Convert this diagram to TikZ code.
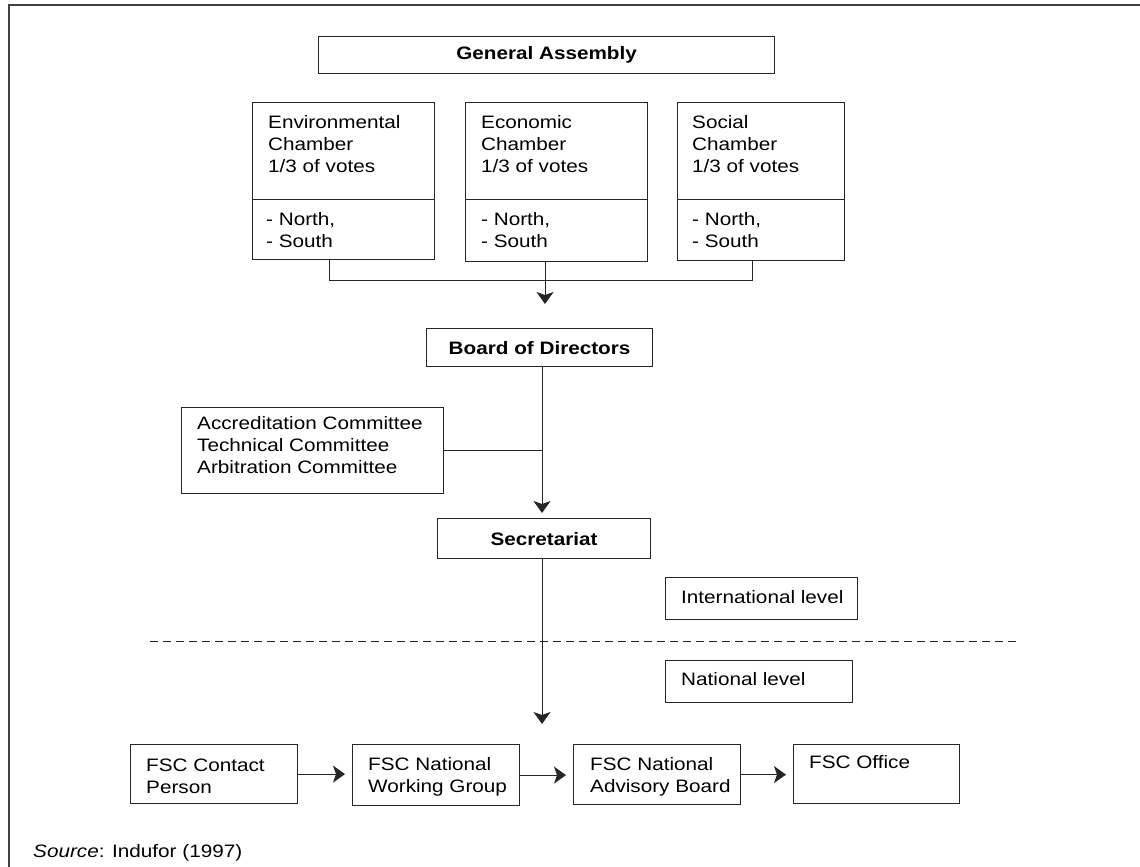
\documentclass[tikz,border=0pt]{standalone}
\usepackage{fontspec}
\setmainfont{Liberation Sans}[FakeStretch=1.15]
\usetikzlibrary{arrows.meta,calc}
\begin{document}
\begin{tikzpicture}[x=1pt,y=-1pt,
  box/.style={draw=black!85, line width=1.2pt, anchor=north west, inner sep=0pt},
  txt/.style={anchor=base west, align=left, inner sep=0pt, font=\fontsize{18}{22}\selectfont},
  btxt/.style={font=\fontsize{18}{22}\selectfont\bfseries},
  conn/.style={draw=black!85, line width=1pt},
  arr/.style={conn, -{Stealth[length=12pt,width=17pt,inset=3pt]}},
  frame/.style={draw=black!75, line width=2pt},
  sep/.style={draw=black!85, line width=1pt, dash pattern=on 8pt off 5pt}]
\useasboundingbox (0,0) rectangle (1140,867);
\draw[frame] (9,867) -- (9,5) -- (1140,5);

% General Assembly
\node[box, btxt, minimum width=456pt, minimum height=37pt] (ga) at (318,36) {General Assembly};

% Chambers
\node[box, minimum width=182pt, minimum height=97pt] (envt) at (252,102) {};
\node[box, minimum width=182pt, minimum height=60pt] (envb) at (252,199) {};
\node[box, minimum width=182pt, minimum height=97pt] (econt) at (465,102) {};
\node[box, minimum width=182pt, minimum height=62pt] (econb) at (465,199) {};
\node[box, minimum width=167pt, minimum height=97pt] (soct) at (677,102) {};
\node[box, minimum width=167pt, minimum height=61pt] (socb) at (677,199) {};
% (multi-line text nodes: base anchor = baseline of last line)
\node[txt] (envtx) at (268,172.5) {Environmental\\Chamber\\1/3 of votes};
\node[txt] (econtx) at (481,172.5) {Economic\\Chamber\\1/3 of votes};
\node[txt] (soctx) at (692,172.5) {Social\\Chamber\\1/3 of votes};
\node[txt] (envbx) at (266,247) {- North,\\- South};
\node[txt] (econbx) at (481,247) {- North,\\- South};
\node[txt] (socbx) at (692,247) {- North,\\- South};

% Board, committees, secretariat
\node[box, btxt, minimum width=226pt, minimum height=38pt] (board) at (426,328) {Board of Directors};
\node[box, minimum width=262pt, minimum height=86pt] (comm) at (181,407) {};
\node[txt] (commtx) at (197,473.5) {Accreditation Committee\\Technical Committee\\Arbitration Committee};
\node[box, btxt, minimum width=213pt, minimum height=40pt] (sec) at (437,518) {Secretariat};

% Levels
\node[box, minimum width=192pt, minimum height=42pt] (intl) at (665,577) {};
\node[txt] (intltx) at (681,603) {International level};
\node[box, minimum width=187pt, minimum height=42pt] (natl) at (665,660) {};
\node[txt] (natltx) at (681,685) {National level};
\coordinate (dl) at (150,641);
\coordinate (dr) at (1017,641);
\draw[sep] (dl) -- (dr);

% National bodies
\node[box, minimum width=167pt, minimum height=59pt] (contact) at (130,744) {};
\node[box, minimum width=167pt, minimum height=61pt] (working) at (352,744) {};
\node[box, minimum width=167pt, minimum height=60pt] (advisory) at (573,744) {};
\node[box, minimum width=166pt, minimum height=59pt] (office) at (793,744) {};
\node[txt] (contacttx) at (146,793) {FSC Contact\\Person};
\node[txt] (workingtx) at (368,792) {FSC National\\Working Group};
\node[txt] (advisorytx) at (590,792) {FSC National\\Advisory Board};
\node[txt] (officetx) at (809,768) {FSC Office};

\node[txt] (src) at (33,857) {\textit{Source}: Indufor (1997)};

% Connectors
\draw[conn] ($(envb.south west)+(77,0)$) -- ++(0,20) -| ($(socb.south west)+(75,0)$);
\draw[arr, shorten >=24pt] ($(econb.south west)+(80,0)$) -- ($(board.north west)+(119,0)$);
\coordinate (bx) at ($(board.south west)+(116,0)$);
\draw[arr, shorten >=5pt] (bx) -- ($(sec.north west)+(105,0)$);
\draw[conn] (comm.east) -- (comm.east -| bx);
\coordinate (natarr) at (542,724);
\draw[arr] ($(sec.south west)+(105,0)$) -- (natarr);
\draw[arr, shorten >=7pt] (contact.east) -- (contact.east -| working.west);
\draw[arr, shorten >=7pt] (working.east) -- (working.east -| advisory.west);
\draw[arr, shorten >=7pt] (advisory.east) -- (advisory.east -| office.west);
\end{tikzpicture}
\end{document}
